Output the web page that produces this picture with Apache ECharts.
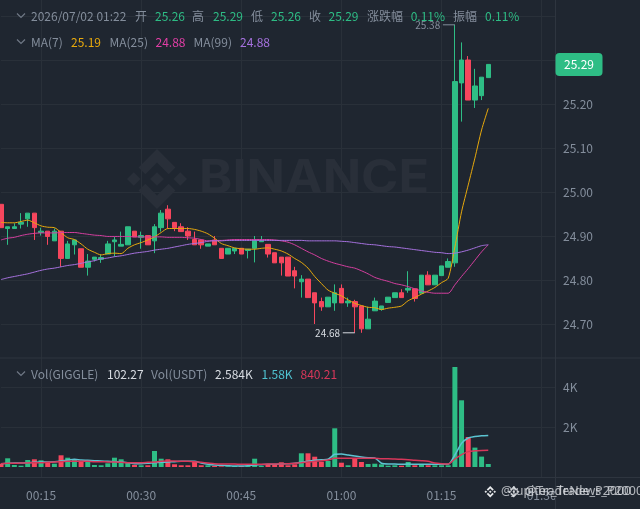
<!DOCTYPE html>
<html><head><meta charset="utf-8">
<style>html,body{margin:0;padding:0;background:#1f2630}#c{width:640px;height:509px}</style>
<script src="https://cdn.jsdelivr.net/npm/echarts@6/dist/echarts.min.js"></script>
</head><body><div id="c"></div>
<script>
const times=['00:09','00:10','00:11','00:12','00:13','00:14','00:15','00:16','00:17','00:18','00:19','00:20','00:21','00:22','00:23','00:24','00:25','00:26','00:27','00:28','00:29','00:30','00:31','00:32','00:33','00:34','00:35','00:36','00:37','00:38','00:39','00:40','00:41','00:42','00:43','00:44','00:45','00:46','00:47','00:48','00:49','00:50','00:51','00:52','00:53','00:54','00:55','00:56','00:57','00:58','00:59','01:00','01:01','01:02','01:03','01:04','01:05','01:06','01:07','01:08','01:09','01:10','01:11','01:12','01:13','01:14','01:15','01:16','01:17','01:18','01:19','01:20','01:21','01:22','01:23','01:24','01:25','01:26','01:27','01:28','01:29','01:30','01:31','01:32'];
const opens=[24.972,24.917,24.917,24.927,24.939,24.952,24.908,24.911,24.889,24.911,24.849,24.880,24.871,24.829,24.847,24.847,24.859,24.887,24.877,24.880,24.911,24.897,24.901,24.889,24.919,24.961,24.931,24.921,24.911,24.892,24.891,24.877,24.891,24.872,24.859,24.866,24.872,24.867,24.872,24.887,24.881,24.862,24.852,24.852,24.821,24.796,24.802,24.771,24.751,24.739,24.748,24.781,24.748,24.751,24.741,24.689,24.730,24.733,24.749,24.760,24.771,24.777,24.780,24.770,24.811,24.789,24.810,24.829,24.839,25.248,25.300,25.209,25.219,25.26];
const closes=[24.919,24.921,24.921,24.931,24.952,24.919,24.911,24.899,24.911,24.849,24.882,24.891,24.829,24.843,24.852,24.851,24.882,24.891,24.881,24.921,24.898,24.901,24.880,24.921,24.952,24.939,24.919,24.910,24.900,24.880,24.880,24.882,24.880,24.849,24.872,24.872,24.859,24.870,24.889,24.889,24.859,24.839,24.839,24.809,24.809,24.802,24.760,24.748,24.739,24.761,24.771,24.748,24.752,24.739,24.689,24.711,24.752,24.741,24.761,24.771,24.760,24.781,24.758,24.811,24.789,24.811,24.832,24.842,25.251,25.300,25.209,25.241,25.261,25.29];
const lows=[24.919,24.880,24.917,24.917,24.921,24.891,24.901,24.880,24.889,24.830,24.849,24.858,24.829,24.810,24.842,24.839,24.859,24.853,24.877,24.880,24.898,24.871,24.880,24.861,24.910,24.917,24.911,24.910,24.891,24.880,24.871,24.877,24.880,24.849,24.859,24.859,24.859,24.849,24.840,24.887,24.851,24.839,24.810,24.809,24.781,24.760,24.760,24.700,24.730,24.739,24.730,24.748,24.739,24.680,24.680,24.689,24.730,24.730,24.749,24.760,24.760,24.771,24.751,24.770,24.789,24.789,24.810,24.829,24.830,25.160,25.209,25.191,25.209,25.26];
const highs=[24.972,24.921,24.929,24.952,24.952,24.952,24.919,24.911,24.917,24.911,24.889,24.891,24.871,24.859,24.852,24.858,24.889,24.898,24.910,24.921,24.911,24.910,24.901,24.927,24.959,24.970,24.931,24.929,24.920,24.910,24.891,24.882,24.900,24.872,24.872,24.872,24.872,24.870,24.900,24.900,24.881,24.862,24.852,24.852,24.830,24.811,24.802,24.771,24.760,24.761,24.790,24.790,24.760,24.755,24.741,24.739,24.760,24.741,24.761,24.771,24.779,24.820,24.780,24.811,24.820,24.811,24.832,24.849,25.38,25.340,25.309,25.280,25.261,25.29];
const ma7=[24.931,24.930,24.930,24.933,24.936,24.930,24.923,24.920,24.919,24.908,24.896,24.892,24.882,24.870,24.863,24.857,24.860,24.861,24.860,24.872,24.880,24.885,24.891,24.898,24.908,24.917,24.917,24.917,24.917,24.915,24.911,24.905,24.895,24.883,24.878,24.873,24.871,24.870,24.870,24.872,24.873,24.870,24.866,24.859,24.849,24.840,24.827,24.808,24.792,24.777,24.770,24.764,24.755,24.747,24.742,24.738,24.737,24.733,24.736,24.738,24.741,24.753,24.760,24.768,24.775,24.783,24.794,24.804,24.875,24.955,25.016,25.077,25.141,25.19];
const ma25=[24.891,24.895,24.897,24.901,24.904,24.906,24.907,24.907,24.907,24.908,24.908,24.908,24.906,24.904,24.902,24.901,24.899,24.899,24.899,24.899,24.898,24.898,24.898,24.898,24.898,24.897,24.897,24.897,24.896,24.895,24.892,24.889,24.890,24.890,24.891,24.892,24.892,24.892,24.892,24.892,24.892,24.891,24.889,24.886,24.880,24.872,24.864,24.857,24.849,24.843,24.838,24.834,24.830,24.827,24.821,24.814,24.806,24.801,24.797,24.792,24.789,24.785,24.780,24.775,24.772,24.770,24.770,24.770,24.789,24.808,24.826,24.845,24.864,24.88];
const ma99=[24.801,24.805,24.808,24.811,24.814,24.818,24.822,24.825,24.827,24.830,24.833,24.835,24.838,24.841,24.844,24.848,24.850,24.853,24.855,24.858,24.861,24.863,24.865,24.868,24.870,24.872,24.875,24.878,24.881,24.883,24.885,24.888,24.889,24.889,24.890,24.890,24.890,24.890,24.890,24.890,24.890,24.890,24.890,24.890,24.890,24.890,24.889,24.889,24.889,24.889,24.889,24.888,24.887,24.885,24.883,24.881,24.880,24.878,24.876,24.875,24.873,24.871,24.869,24.867,24.865,24.863,24.862,24.860,24.861,24.864,24.868,24.873,24.878,24.88];
const volumes=[165,435,100,65,350,385,335,215,165,585,465,350,265,250,100,85,185,465,385,215,100,85,85,800,415,385,135,85,85,250,85,85,50,35,35,50,50,65,415,50,100,100,235,85,135,685,685,515,265,300,1935,215,85,415,250,150,165,135,65,85,65,250,85,135,85,85,85,85,5000,3335,1500,970,520,150];
const volMaA=[165,185,200,200,215,235,250,250,265,300,350,385,350,335,315,300,285,265,250,215,165,165,185,215,235,250,265,285,285,285,200,135,100,85,65,50,50,65,100,115,135,135,150,165,185,235,285,335,365,385,635,650,600,550,500,465,450,185,150,150,135,150,135,135,135,135,135,135,600,1180,1450,1520,1560,1580];
const volMaB=[165,185,185,200,200,215,215,235,250,265,285,285,285,285,265,265,250,250,235,215,215,215,235,250,285,300,300,285,285,265,235,200,165,150,150,150,135,135,135,135,150,150,150,165,185,215,250,285,315,350,435,435,435,435,435,435,435,415,415,400,385,365,335,315,285,200,165,150,400,620,770,810,830,840.21];
const yLabelsVol=[2000,4000];
const headerRow=[['2026/07/02 01:22','g',31],['开','g',135],['25.26','u',155],['高','g',192],['25.29','u',213],['低','g',251],['25.26','u',271],['收','g',309],['25.29','u',328.5],['涨跌幅','g',367],['0.11%','u',410.7],['振幅','g',453],['0.11%','u',485]];
const maRow=[['MA(7)','g',31],['25.19','y',71],['MA(25)','g',109.5],['24.88','p',155.5],['MA(99)','g',193.5],['24.88','v',240]];
const volRow=[['Vol(GIGGLE)','g',31],['102.27','w',107],['Vol(USDT)','g',151],['2.584K','w',215],['1.58K','c',261.5],['840.21','r',300.5]];
const highText='25.38',lowText='24.68',lastText='25.29',brand='BINANCE';
const wmA='@Jupiter_Trade_P2000',wmB='@TradeNews_P2000';

const UP='#2ebd85',DOWN='#f6465d',GRID='#293039',GRAY='#848e9c',BG='#1f2630';
const FONT='"Noto Sans CJK SC","Noto Sans",sans-serif';
const col={g:GRAY,u:UP,y:'#e8a90c',p:'#e23ea6',v:'#a772e0',w:'#d8dce2',c:'#4fc3d0',r:'#d8375a'};
const LOGO=[
 [[63.3,48.8],[77.8,63.3],[63.3,77.8],[48.8,63.3]],
 [[0,63.3],[14.3,49],[28.6,63.3],[14.3,77.6]],
 [[98,63.3],[112.3,49],[126.6,63.3],[112.3,77.6]],
 [[38.7,53.2],[63.3,28.6],[87.9,53.2],[102.2,38.9],[63.3,0],[24.4,38.9]],
 [[38.7,73.4],[63.3,98],[87.9,73.4],[102.2,87.7],[63.3,126.6],[24.4,87.7]]
];
const logo=(x,y,size,fill,z)=>({type:'group',x,y,scaleX:size/126.6,scaleY:size/126.6,children:LOGO.map(p=>({type:'polygon',z,shape:{points:p},style:{fill}}))});

const el=echarts.init(document.getElementById('c'),null,{renderer:'canvas'});
const n=opens.length;
const candle=opens.map((o,i)=>[o,closes[i],lows[i],highs[i]]);
const volData=volumes.map((v,i)=>({value:v,itemStyle:{color:closes[i]>=opens[i]?UP:DOWN}}));
const isMark=(i,v)=>/:(00|15|30|45)$/.test(v);
const xBase={type:'category',data:times,boundaryGap:false,axisLine:{show:false},axisTick:{show:false},
  splitLine:{show:true,showMinLine:true,showMaxLine:true,interval:isMark,lineStyle:{color:GRID,width:1}}};
const line=(name,data,color,x,y,w)=>({name,type:'line',xAxisIndex:x,yAxisIndex:y,data,showSymbol:false,symbol:'none',smooth:0.25,lineStyle:{color,width:w},itemStyle:{color},silent:true,z:4,clip:false});
function row(items,y){return items.map(([t,c,x])=>({type:'text',x,y,z:20,style:{text:t,fill:col[c],font:'12px '+FONT,textVerticalAlign:'middle'}}));}
function chev(y){return {type:'polyline',z:20,shape:{points:[[17,y-2.5],[21,y+1.5],[25,y-2.5]]},style:{stroke:'#6f7885',lineWidth:1.2,fill:null}};}
const rule=(x1,y1,x2,y2)=>({type:'line',z:1,shape:{x1,y1,x2,y2},style:{stroke:'#2e353f',lineWidth:1}});
const wmGraphic=[
 logo(127,149,60,'#292f39',0),
 {type:'text',x:199,y:179,scaleX:1.085,z:0,style:{text:brand,fill:'#292f39',font:'700 46.5px Inter,"Noto Sans",sans-serif',textVerticalAlign:'middle'}}
];
const footer=[
 logo(484.5,486,11.5,'#e6e8ea',20),
 logo(508,486,11.5,'#c9ccd1',20),
 {type:'text',x:501,y:491.5,z:20,style:{text:wmA,fill:'rgba(225,228,232,0.75)',font:'12.5px "Noto Sans",sans-serif',textVerticalAlign:'middle'}},
 {type:'text',x:525,y:491.5,z:20,style:{text:wmB,fill:'rgba(225,228,232,0.75)',font:'12.5px "Noto Sans",sans-serif',textVerticalAlign:'middle'}}
];
const option={
 backgroundColor:BG,animation:false,textStyle:{fontFamily:FONT},
 grid:[{left:1,width:554,top:0,height:368},{left:1,width:554,top:358,height:120}],
 xAxis:[Object.assign({},xBase,{gridIndex:0,axisLabel:{show:false}}),
  Object.assign({},xBase,{gridIndex:1,axisLabel:{show:true,interval:isMark,color:GRAY,fontSize:12,fontFamily:FONT,margin:11,hideOverlap:false}})],
 yAxis:[{type:'value',gridIndex:0,position:'right',min:24.6,max:25.4364,interval:0.1,
   axisLine:{show:false},axisTick:{show:false},
   axisLabel:{color:GRAY,fontSize:12,fontFamily:FONT,margin:8,padding:[2,0,0,0],showMinLabel:false,showMaxLabel:false,formatter:v=>(v>=25.25||v<24.65?'':v.toFixed(2))},
   splitLine:{show:true,showMinLine:false,showMaxLine:false,lineStyle:{color:[GRID,GRID,GRID,GRID,GRID,GRID,GRID,GRID,BG,BG]}}},
  {type:'value',gridIndex:1,position:'right',min:-550,max:5450,
   axisLine:{show:false},axisTick:{show:false,customValues:yLabelsVol},
   axisLabel:{customValues:yLabelsVol,color:GRAY,fontSize:12,fontFamily:FONT,margin:8,formatter:v=>(v/1000)+'K'},
   splitLine:{show:true,lineStyle:{color:GRID,width:1}}}],
 series:[
  {name:'k',type:'candlestick',xAxisIndex:0,yAxisIndex:0,data:candle,barWidth:5,clip:false,z:3,
   itemStyle:{color:UP,color0:DOWN,borderColor:UP,borderColor0:DOWN,borderWidth:1},
   markPoint:{symbol:'circle',symbolSize:0,silent:true,animation:false,data:[
    {coord:[times[68],highs[68]],label:{show:true,position:'left',distance:0,formatter:'{t|'+highText+'} {l|}',rich:{t:{color:GRAY,fontSize:10,fontFamily:FONT},l:{width:12,height:1,backgroundColor:GRAY}}}},
    {coord:[times[53],lows[53]],label:{show:true,position:'left',distance:0,formatter:'{t|'+lowText+'} {l|}',rich:{t:{color:'#d8dce2',fontSize:10,fontFamily:FONT},l:{width:12,height:1,backgroundColor:'#d8dce2'}}}}
   ]}},
  line('MA7',ma7,'#e8a90c',0,0,1),line('MA25',ma25,'#d63fa0',0,0,1),line('MA99',ma99,'#a772e0',0,0,1),
  {name:'vol',type:'bar',xAxisIndex:1,yAxisIndex:1,data:volData,barWidth:5,clip:false,z:3},
  line('VA',volMaA,'#5cc4d2',1,1,1.5),line('VB',volMaB,'#d8375a',1,1,1.5)
 ]
};
el.setOption(option);
const tagY=el.convertToPixel({yAxisIndex:0},closes[n-1]);
el.setOption({graphic:[
 ...wmGraphic,
 rule(0,358,640,358),rule(0,477.5,640,477.5),rule(555.5,0,555.5,509),
 chev(16),chev(42),chev(374),
 ...row(headerRow,16),...row(maRow,42),...row(volRow,374),
 {type:'rect',z:20,shape:{x:555.5,y:tagY-11.5,width:47,height:23,r:4},style:{fill:UP}},
 {type:'text',z:21,x:579,y:tagY,style:{text:lastText,fill:'#fff',font:'12px '+FONT,textAlign:'center',textVerticalAlign:'middle'}},
 ...footer
]});
</script></body></html>
